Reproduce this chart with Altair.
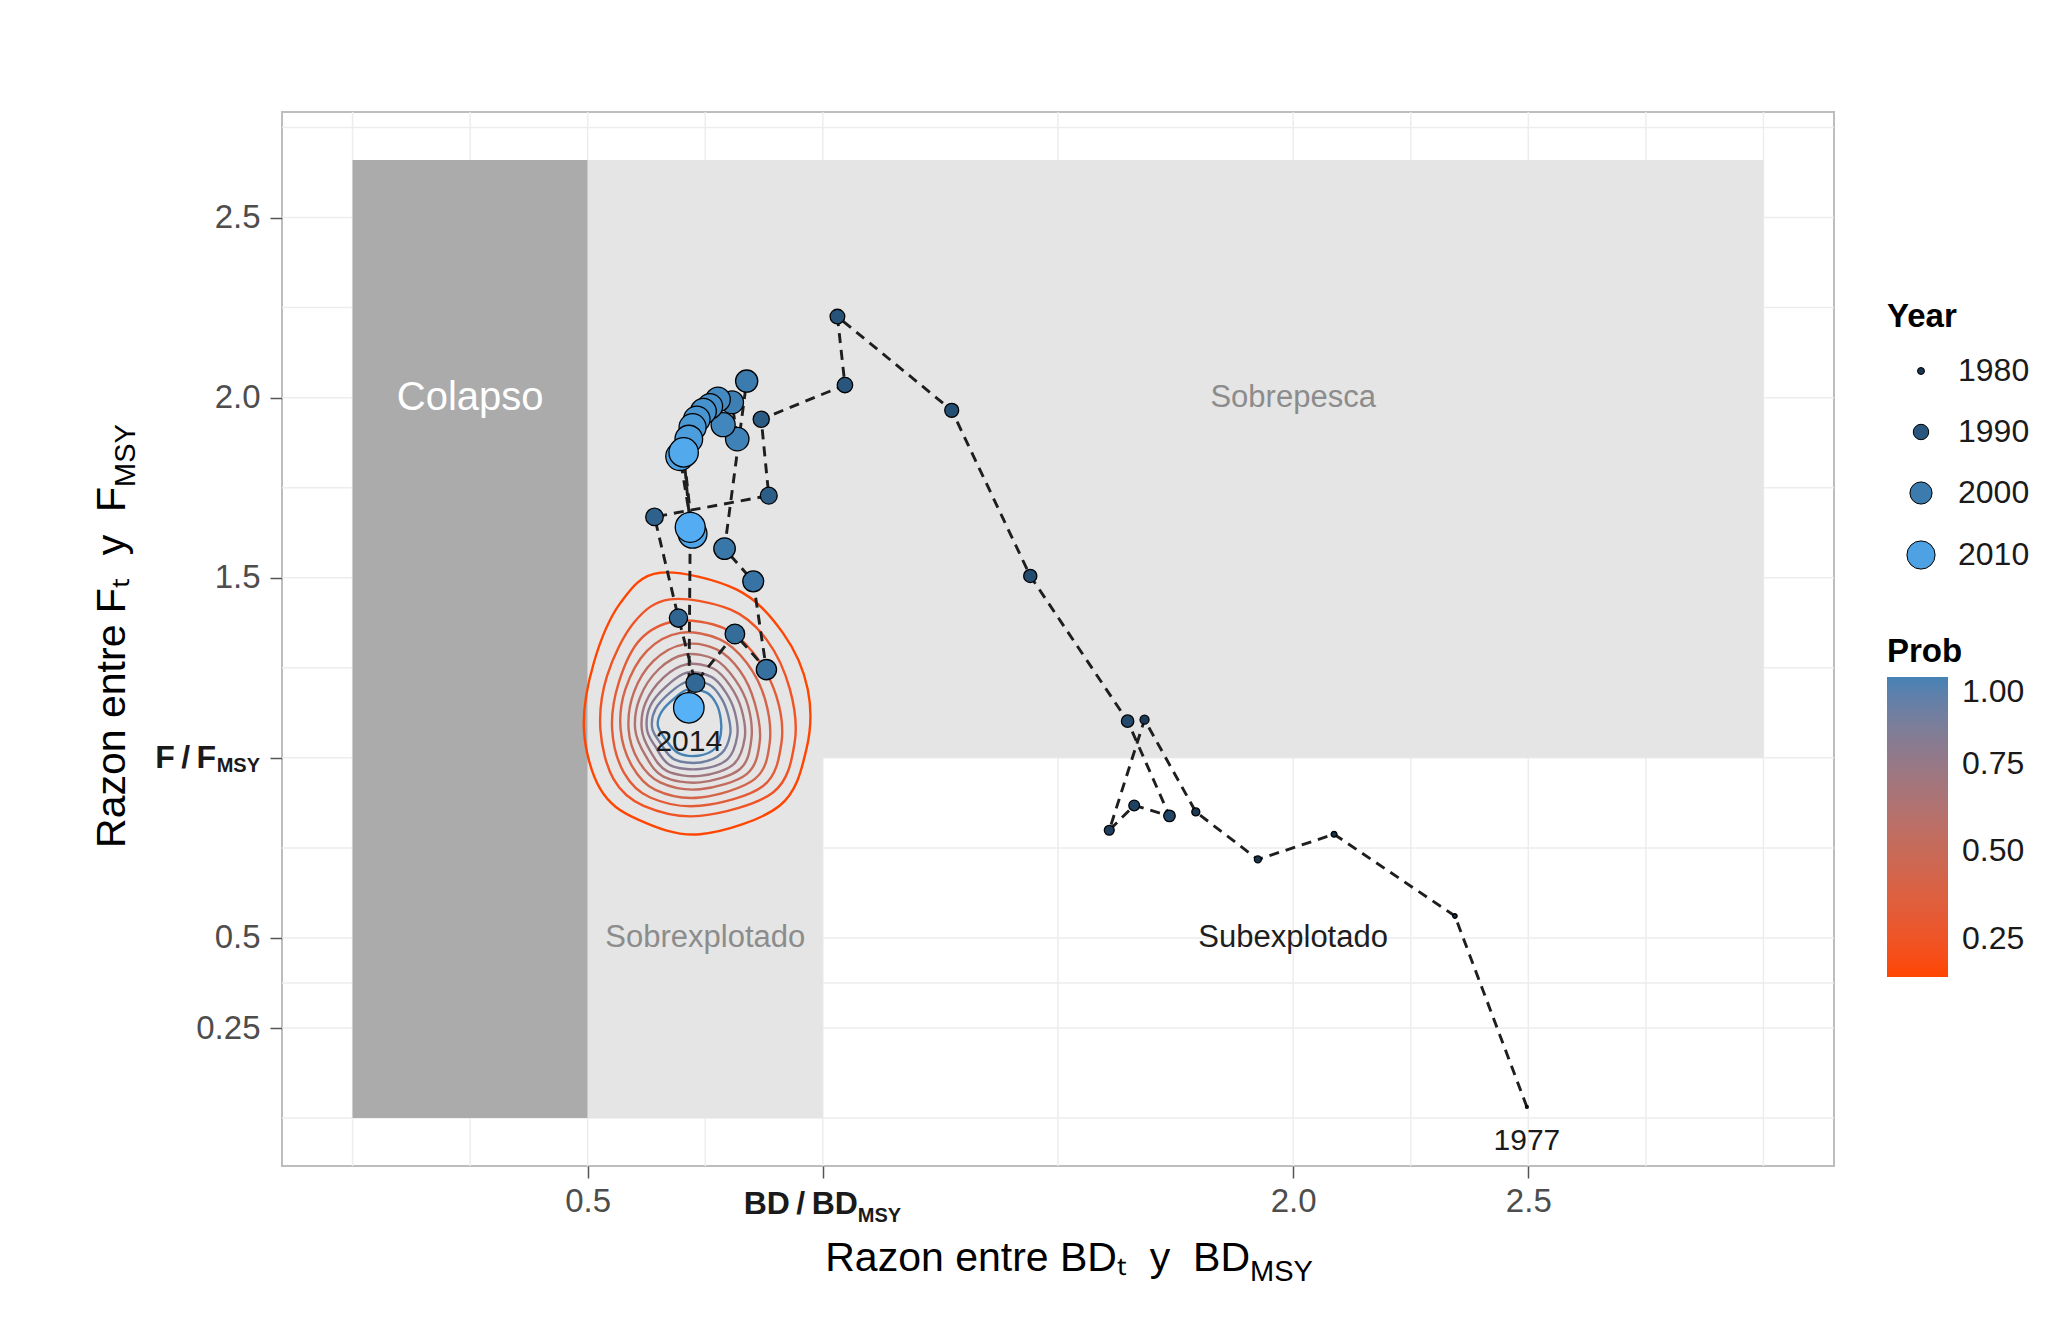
import altair as alt
import pandas as pd

# ---------------- data ----------------
years = list(range(1977, 2015))
bd_ratio = [2.497, 2.344, 2.087, 1.925, 1.793, 1.684, 1.609, 1.662, 1.737, 1.648, 1.441, 1.274, 1.031, 1.047,
            0.869, 0.885, 0.642, 0.693, 0.729, 0.813, 0.880, 0.852, 0.791,
            0.838, 0.807, 0.818, 0.788, 0.777, 0.760, 0.746, 0.732, 0.723, 0.715, 0.696, 0.723, 0.704, 0.718, 0.715]
f_ratio = [0.031, 0.561, 0.788, 0.718, 0.850, 1.106, 0.799, 0.868, 0.839, 1.102, 1.505, 1.965, 2.225, 2.035,
           1.940, 1.728, 1.669, 1.388, 1.208, 1.344, 1.245, 1.490, 1.581,
           2.046, 1.987, 1.885, 1.925, 1.995, 1.976, 1.962, 1.940, 1.918, 1.885, 1.837, 1.622, 1.848, 1.640, 1.139]
label_years = [1977, 2014]

# density contours of the last year (outer -> inner)
contour_levels = [0.14, 0.24, 0.33, 0.43, 0.52, 0.62, 0.71, 0.81, 0.90, 1.00]
contour_x = [
    [0.654, 0.817, 0.915, 0.968, 0.965, 0.908, 0.739, 0.605, 0.527, 0.492, 0.513, 0.570],
    [0.675, 0.803, 0.880, 0.930, 0.940, 0.894, 0.739, 0.619, 0.555, 0.527, 0.541, 0.598],
    [0.690, 0.788, 0.852, 0.901, 0.912, 0.873, 0.739, 0.633, 0.577, 0.552, 0.566, 0.612],
    [0.697, 0.781, 0.838, 0.877, 0.887, 0.855, 0.739, 0.644, 0.594, 0.570, 0.580, 0.626],
    [0.704, 0.774, 0.824, 0.855, 0.866, 0.838, 0.739, 0.654, 0.608, 0.587, 0.598, 0.640],
    [0.707, 0.771, 0.813, 0.841, 0.848, 0.824, 0.739, 0.661, 0.623, 0.601, 0.611, 0.651],
    [0.711, 0.767, 0.803, 0.827, 0.834, 0.810, 0.739, 0.668, 0.633, 0.615, 0.623, 0.661],
    [0.712, 0.764, 0.794, 0.813, 0.818, 0.797, 0.739, 0.675, 0.644, 0.626, 0.633, 0.668],
    [0.714, 0.759, 0.785, 0.799, 0.803, 0.785, 0.739, 0.684, 0.654, 0.637, 0.644, 0.675],
    [0.714, 0.753, 0.774, 0.783, 0.783, 0.771, 0.735, 0.693, 0.665, 0.649, 0.658, 0.686],
]
contour_y = [
    [1.514, 1.467, 1.347, 1.190, 1.024, 0.867, 0.788, 0.830, 0.913, 1.079, 1.264, 1.431],
    [1.440, 1.412, 1.329, 1.190, 1.042, 0.904, 0.839, 0.867, 0.941, 1.079, 1.227, 1.375],
    [1.380, 1.361, 1.292, 1.172, 1.042, 0.922, 0.867, 0.890, 0.959, 1.079, 1.209, 1.329],
    [1.347, 1.329, 1.264, 1.163, 1.042, 0.941, 0.890, 0.911, 0.978, 1.079, 1.190, 1.297],
    [1.315, 1.301, 1.241, 1.153, 1.047, 0.955, 0.913, 0.932, 0.992, 1.079, 1.181, 1.269],
    [1.287, 1.273, 1.218, 1.144, 1.052, 0.969, 0.932, 0.948, 1.006, 1.079, 1.167, 1.246],
    [1.260, 1.248, 1.200, 1.135, 1.056, 0.982, 0.950, 0.964, 1.019, 1.079, 1.153, 1.223],
    [1.237, 1.224, 1.181, 1.126, 1.061, 0.996, 0.969, 0.980, 1.031, 1.079, 1.144, 1.200],
    [1.213, 1.203, 1.164, 1.116, 1.066, 1.013, 0.987, 0.996, 1.042, 1.084, 1.135, 1.181],
    [1.190, 1.181, 1.149, 1.107, 1.066, 1.026, 1.006, 1.013, 1.052, 1.091, 1.130, 1.167],
]

# zones
collapse_zone = {"x0": [0.0], "x1": [0.5], "y0": [0.0], "y1": [2.66]}
grey_zones = {"x0": [0.5, 0.5], "x1": [3.0, 1.0], "y0": [1.0, 0.0], "y1": [2.66, 1.0]}
zone_names = ["Colapso", "Sobrepesca", "Sobrexplotado", "Subexplotado"]
zone_x = [0.25, 2.0, 0.75, 2.0]
zone_y = [2.0, 2.0, 0.5, 0.5]

grid_x = [0.0, 0.25, 0.5, 0.75, 1.0, 1.5, 2.0, 2.25, 2.5, 2.75, 3.0]
grid_y = [0.0, 0.25, 0.375, 0.5, 0.75, 1.0, 1.25, 1.5, 1.75, 2.0, 2.25, 2.5, 2.75]
x_ticks = [0.5, 1.0, 2.0, 2.5]
y_ticks = [0.25, 0.5, 1.0, 1.5, 2.0, 2.5]
prob_ticks = [0.25, 0.5, 0.75, 1.0]

# ---------------- tables ----------------
traj = pd.DataFrame({"Year": years, "BD": bd_ratio, "F": f_ratio})
rows = []
for r, (cx, cy) in enumerate(zip(contour_x, contour_y)):
    for k, (a, b) in enumerate(zip(cx, cy)):
        rows.append({"ring": r, "k": k, "x": a, "y": b, "prob": contour_levels[r]})
cont = pd.DataFrame(rows)
zones = pd.DataFrame({"name": zone_names, "x": zone_x, "y": zone_y})

W, H = 1552, 1054
FONT = "Liberation Sans"
NB = "\u00a0"

xs = alt.Scale(domain=[-0.15, 3.15], nice=False, zero=False)
ys = alt.Scale(domain=[-0.133, 2.793], nice=False, zero=False)
xaxis = alt.Axis(values=x_ticks, grid=False, domain=False, tickColor="#555555", tickSize=12, tickWidth=1.5,
                 labelFontSize=33, labelColor="#4D4D4D", labelPadding=7, title="",
                 labelExpr="datum.value == 1 ? '' : format(datum.value, '.1f')")
yaxis = alt.Axis(values=y_ticks, grid=False, domain=False, tickColor="#555555", tickSize=12, tickWidth=1.5,
                 labelFontSize=33, labelColor="#4D4D4D", labelPadding=10, title="",
                 labelExpr="datum.value == 1 ? '' : (datum.value == 0.25 ? '0.25' : format(datum.value, '.1f'))")


def X(f):
    return alt.X(f, type="quantitative", scale=xs, axis=xaxis, title="")


def Y(f):
    return alt.Y(f, type="quantitative", scale=ys, axis=yaxis, title="")


grid_v = alt.Chart(pd.DataFrame({"g": grid_x})).mark_rule(color="#EDEDED", strokeWidth=1.5).encode(x=X("g"))
grid_h = alt.Chart(pd.DataFrame({"g": grid_y})).mark_rule(color="#EDEDED", strokeWidth=1.5).encode(y=Y("g"))

dark = alt.Chart(pd.DataFrame(collapse_zone)).mark_rect(color="#ABABAB").encode(
    x=X("x0"), x2="x1", y=Y("y0"), y2="y1")
light = alt.Chart(pd.DataFrame(grey_zones)).mark_rect(color="#E5E5E5").encode(
    x=X("x0"), x2="x1", y=Y("y0"), y2="y1")


def zone_text(name, color, size, weight="normal"):
    return alt.Chart(zones).transform_filter(alt.datum.name == name).mark_text(
        color=color, fontSize=size, baseline="middle", align="center", fontWeight=weight).encode(
        x=X("x"), y=Y("y"), text="name:N")


t_col = zone_text("Colapso", "white", 40)
t_sp = zone_text("Sobrepesca", "#8C8C8C", 31)
t_sx = zone_text("Sobrexplotado", "#8C8C8C", 31)
t_sub = zone_text("Subexplotado", "#1E1E1E", 31, 500)

prob_legend = alt.Legend(title="Prob", orient="none", legendX=1605, legendY=524, direction="vertical",
                         gradientLength=300, gradientThickness=61, values=prob_ticks, format=".2f",
                         titleFontSize=33, titleFontWeight="bold", titleColor="black", titlePadding=8,
                         labelFontSize=32, labelColor="#1a1a1a", labelOffset=14, gradientStrokeWidth=0)

contours = alt.Chart(cont).mark_line(interpolate="cardinal-closed", strokeWidth=2.4).encode(
    x=X("x"), y=Y("y"), detail="ring:N", order="k:Q",
    color=alt.Color("prob:Q", scale=alt.Scale(domain=[0.14, 1.0], range=["#FF4500", "#4682B4"],
                                              interpolate="lab"), legend=prob_legend))

path = alt.Chart(traj).mark_line(strokeDash=[10, 7], color="#1E1E1E", strokeWidth=2.9).encode(
    x=X("BD"), y=Y("F"), order="Year:Q")


def year_legend():
    return alt.Legend(title="Year", orient="none", legendX=1605, legendY=189, values=[8, 18, 28, 38],
                      labelExpr="datum.value + 1972", titleFontSize=33, titleFontWeight="bold",
                      titleColor="black", titlePadding=21, labelFontSize=32, labelColor="#1a1a1a",
                      rowPadding=29, symbolOffset=18, labelOffset=21,
                      symbolStrokeColor="black", symbolStrokeWidth=1)


points = alt.Chart(traj).transform_calculate(s="datum.Year - 1972").mark_circle(
    opacity=1, stroke="black", strokeWidth=1.3).encode(
    x=X("BD"), y=Y("F"), order="Year:Q",
    color=alt.Color("s:Q", scale=alt.Scale(domain=[5, 42], range=["#132B43", "#56B1F7"], interpolate="lab"),
                    legend=year_legend()),
    size=alt.Size("s:Q", scale=alt.Scale(type="pow", exponent=1.5, domain=[5, 42], range=[8, 930], zero=False),
                  legend=year_legend()))

year_lbl = alt.Chart(traj).transform_filter(alt.FieldOneOfPredicate(field="Year", oneOf=label_years)).mark_text(
    dy=34, fontSize=30, color="#1a1a1a", baseline="middle").encode(
    x=X("BD"), y=Y("F"), text=alt.Text("Year:Q", format="d"))

one = pd.DataFrame({"v": [1.0]})
x_spec = alt.Chart(one).mark_text(text="BD\u2009/\u2009BD", align="right", baseline="alphabetic", dx=35,
                                  fontSize=32, fontWeight="bold", color="#1a1a1a").encode(
    x=X("v"), y=alt.value(H + 48))
x_sub = alt.Chart(one).mark_text(text="MSY", align="left", baseline="alphabetic", dx=35,
                                 fontSize=20, fontWeight="bold", color="#1a1a1a").encode(
    x=X("v"), y=alt.value(H + 56))
y_spec = alt.Chart(one).mark_text(text="F\u2009/\u2009F", align="right", baseline="middle",
                                  fontSize=32, fontWeight="bold", color="#1a1a1a").encode(
    y=Y("v"), x=alt.value(-66))
y_sub = alt.Chart(one).mark_text(text="MSY", align="right", baseline="middle", dy=8,
                                 fontSize=20, fontWeight="bold", color="#1a1a1a").encode(
    y=Y("v"), x=alt.value(-22))

zero = pd.DataFrame({"a": [0]})
xt1 = alt.Chart(zero).mark_text(text="Razon entre BD\u209c" + NB * 2 + "y" + NB * 2 + "BD", align="right",
                                baseline="alphabetic", fontSize=41, color="black").encode(
    x=alt.value(968), y=alt.value(1159))
xt2 = alt.Chart(zero).mark_text(text="MSY", align="left", baseline="alphabetic",
                                fontSize=29, color="black").encode(x=alt.value(968), y=alt.value(1169))
yt1 = alt.Chart(zero).mark_text(text="Razon entre F\u209c" + NB * 2 + "y" + NB * 2 + "F", align="right",
                                baseline="alphabetic", angle=270, fontSize=41, color="black").encode(
    x=alt.value(-157), y=alt.value(375))
yt2 = alt.Chart(zero).mark_text(text="MSY", align="left", baseline="alphabetic", angle=270, dy=10,
                                fontSize=29, color="black").encode(x=alt.value(-157), y=alt.value(375))

chart = alt.layer(
    grid_v, grid_h, dark, light, t_col, t_sp, t_sx, t_sub,
    contours, path, points, year_lbl,
    x_spec, x_sub, y_spec, y_sub, xt1, xt2, yt1, yt2
).resolve_scale(color="independent", size="independent").resolve_legend(
    color="independent", size="independent"
).properties(
    width=W, height=H,
    padding={"left": 274, "top": 104, "right": 210, "bottom": 140},
    autosize=alt.AutoSizeParams(type="none"),
).configure(font=FONT).configure_view(stroke="#BDBDBD", strokeWidth=2)

chart.save("out.html", embed_options={"renderer": "svg", "actions": False})
